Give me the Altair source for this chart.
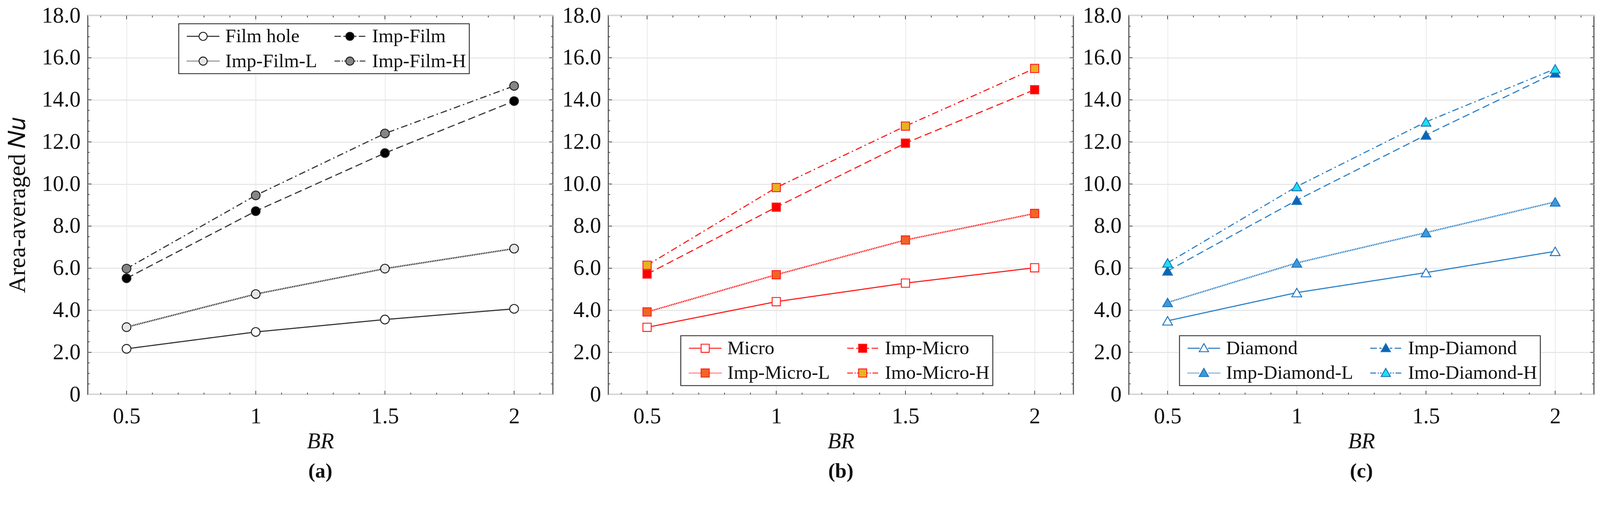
import altair as alt
import pandas as pd

BR = [0.5, 1.0, 1.5, 2.0]

# (a) film-hole family
FILM_SERIES = ["Film hole", "Imp-Film", "Imp-Film-L", "Imp-Film-H"]
FILM_HOLE = [2.17, 2.97, 3.56, 4.07]
IMP_FILM = [5.52, 8.71, 11.47, 13.94]
IMP_FILM_L = [3.20, 4.77, 5.98, 6.93]
IMP_FILM_H = [5.98, 9.46, 12.40, 14.66]

# (b) micro family
MICRO_SERIES = ["Micro", "Imp-Micro", "Imp-Micro-L", "Imo-Micro-H"]
MICRO = [3.19, 4.41, 5.29, 6.02]
IMP_MICRO = [5.72, 8.90, 11.94, 14.48]
IMP_MICRO_L = [3.92, 5.69, 7.34, 8.60]
IMO_MICRO_H = [6.14, 9.83, 12.75, 15.49]

# (c) diamond family
DIAMOND_SERIES = ["Diamond", "Imp-Diamond", "Imp-Diamond-L", "Imo-Diamond-H"]
DIAMOND = [3.50, 4.84, 5.79, 6.80]
IMP_DIAMOND = [5.87, 9.23, 12.33, 15.28]
IMP_DIAMOND_L = [4.37, 6.25, 7.69, 9.15]
IMO_DIAMOND_H = [6.25, 9.88, 12.95, 15.47]

X_MAJOR = [0.5, 1.0, 1.5, 2.0]
X_MINOR = [0.4, 0.6, 0.7, 0.8, 0.9, 1.1, 1.2, 1.3, 1.4, 1.6, 1.7, 1.8, 1.9, 2.1]
Y_MAJOR = [0, 2, 4, 6, 8, 10, 12, 14, 16, 18]
Y_MINOR = [0.5, 1, 1.5, 2.5, 3, 3.5, 4.5, 5, 5.5, 6.5, 7, 7.5, 8.5, 9, 9.5,
           10.5, 11, 11.5, 12.5, 13, 13.5, 14.5, 15, 15.5, 16.5, 17, 17.5]

FONT = "Liberation Serif"
W, H = 1258, 1025
XS = alt.Scale(domain=[0.35, 2.15], nice=False, zero=False)
YS = alt.Scale(domain=[0, 18], nice=False, zero=False)

# base / Imp / Imp-L / Imp-H
LINE_DASHES = [[1, 0], [20, 10], [3, 1.8], [18, 8, 4, 8]]
LINE_WIDTHS = [3, 3, 4, 3]

MARKER_PATHS = {
    "circle": "M-1,0A1,1 0 1,0 1,0A1,1 0 1,0 -1,0Z",
    "square": "M-1,-1H1V1H-1Z",
    "triangle-up": "M0,-1.15L1.15,0.85H-1.15Z",
}


def legend_paths(marker):
    """Legend symbols: short line pieces with the marker in the middle."""
    m = MARKER_PATHS[marker]
    dots = "".join(f"M{-4 + 0.3 * i:.2f},0h0.17" for i in range(10))
    dots += "".join(f"M{1.13 + 0.3 * i:.2f},0h0.17" for i in range(10))
    return [
        "M-4,0H-1M1,0H4" + m,
        "M-3.8,0H-2.2M-1.6,0H-1M1,0H1.6M2.2,0H3.8" + m,
        dots + m,
        "M-3.8,0H-2.4M-2,0H-1.7M-1.4,0H-1M1,0H1.4M1.7,0H2M2.4,0H3.8" + m,
    ]


def long_df(names, series):
    rows = []
    for name, vals in zip(names, series):
        for br, nu in zip(BR, vals):
            rows.append({"br": br, "nu": nu, "series": name})
    return pd.DataFrame(rows)


def tick_layers():
    """Inward ticks on all four edges of the frame, placed by the x / y scales."""
    out = []
    for values, size in [(X_MAJOR, 10), (X_MINOR, 5)]:
        tdf = pd.DataFrame({"v": values})
        for y0, y1 in [(H - size, H), (0, size)]:
            out.append(
                alt.Chart(tdf)
                .mark_rule(color="#444", strokeWidth=2)
                .encode(x=alt.X("v:Q", scale=XS),
                        y=alt.value(y0), y2=alt.value(y1))
            )
    for values, size in [(Y_MAJOR[1:-1], 10), (Y_MINOR, 5)]:
        tdf = pd.DataFrame({"v": values})
        for x0, x1 in [(0, size), (W - size, W)]:
            out.append(
                alt.Chart(tdf)
                .mark_rule(color="#444", strokeWidth=2)
                .encode(y=alt.Y("v:Q", scale=YS),
                        x=alt.value(x0), x2=alt.value(x1))
            )
    return out


def panel(names, series, fills, line_color, point_stroke, marker, msize,
          legend_xy, y_title, label):
    df = long_df(names, series)

    x_main = alt.Axis(orient="bottom", values=X_MAJOR,
                      labelExpr="format(datum.value, '~g')",
                      ticks=False, tickSize=0, domain=False, grid=True,
                      gridColor="#e2e2e2", gridWidth=1.5,
                      labelPadding=31, labelFont=FONT, labelFontSize=60,
                      labelColor="#111",
                      title="BR", titleFont=FONT, titleFontStyle="italic",
                      titleFontSize=60, titleFontWeight="normal",
                      titleColor="#111", titlePadding=8)
    y_main = alt.Axis(orient="left", values=Y_MAJOR,
                      labelExpr="datum.value == 0 ? '0' : format(datum.value, '.1f')",
                      ticks=False, tickSize=0, domain=False, grid=True,
                      gridColor="#e6e6e6", gridWidth=3,
                      labelPadding=20, labelFont=FONT, labelFontSize=60,
                      labelColor="#111",
                      title=y_title, titleFont=FONT, titleFontSize=64,
                      titleFontWeight="normal", titleColor="#111",
                      titlePadding=32)

    layers = []
    for i, (name, dash, sw) in enumerate(zip(names, LINE_DASHES, LINE_WIDTHS)):
        x_enc = alt.X("br:Q", scale=XS, axis=x_main) if i == 0 else alt.X("br:Q", scale=XS)
        y_enc = alt.Y("nu:Q", scale=YS, axis=y_main) if i == 0 else alt.Y("nu:Q", scale=YS)
        layers.append(
            alt.Chart(df)
            .transform_filter(alt.datum.series == name)
            .mark_line(color=line_color, strokeWidth=sw, strokeDash=dash)
            .encode(x=x_enc, y=y_enc)
        )

    leg = alt.Legend(orient="none", legendX=legend_xy[0], legendY=legend_xy[1],
                     columns=2, direction="horizontal", title=None,
                     labelFont=FONT, labelFontSize=52,
                     labelColor="#111", labelLimit=450, symbolSize=484,
                     symbolStrokeWidth=2.5, symbolOffset=32, labelOffset=34,
                     columnPadding=30, rowPadding=15, padding=8,
                     strokeColor="#333", fillColor="white")
    fill_scale = alt.Scale(domain=names, range=fills)

    # legend-only layer (draws no rows)
    layers.append(
        alt.Chart(df)
        .transform_filter("datum.br < 0")
        .mark_point(filled=True, stroke=point_stroke, strokeWidth=2.5, opacity=1)
        .encode(
            fill=alt.Fill("series:N", scale=fill_scale, legend=leg),
            shape=alt.Shape("series:N",
                            scale=alt.Scale(domain=names, range=legend_paths(marker)),
                            legend=leg),
        )
    )

    layers += tick_layers()

    layers.append(
        alt.Chart(df)
        .mark_point(shape=marker, filled=True, size=msize, stroke=point_stroke,
                    strokeWidth=2.5, opacity=1)
        .encode(
            x=alt.X("br:Q", scale=XS),
            y=alt.Y("nu:Q", scale=YS),
            fill=alt.Fill("series:N", scale=fill_scale),
        )
    )

    return (
        alt.layer(*layers)
        .properties(
            width=W, height=H,
            title=alt.TitleParams(label, orient="bottom", font=FONT, fontSize=56,
                                  fontWeight="bold", color="#111", offset=24),
        )
    )


chart_a = panel(FILM_SERIES, [FILM_HOLE, IMP_FILM, IMP_FILM_L, IMP_FILM_H],
                ["white", "black", "#e6e6e6", "#858585"],
                "#333333", "#222222", "circle", 560, (246, 22),
                "Area-averaged \U0001D441\U0001D462", "(a)")
chart_b = panel(MICRO_SERIES, [MICRO, IMP_MICRO, IMP_MICRO_L, IMO_MICRO_H],
                ["white", "#ff0000", "#f26522", "#e9b222"],
                "#ff1a1a", "#ff2020", "square", 500, (196, 866), None, "(b)")
chart_c = panel(DIAMOND_SERIES, [DIAMOND, IMP_DIAMOND, IMP_DIAMOND_L, IMO_DIAMOND_H],
                ["white", "#0a66b5", "#3b9ad9", "#17e4ef"],
                "#2a80c8", "#1f72bd", "triangle-up", 700, (137, 866), None, "(c)")

chart = (
    alt.hconcat(chart_a, chart_b, chart_c, spacing=20)
    .resolve_scale(fill="independent", shape="independent")
    .configure_view(stroke="#555555", strokeWidth=3)
    .configure_axis(labelFont=FONT, titleFont=FONT)
    .configure_legend(strokeWidth=2.5)
    .properties(padding={"left": 6, "top": -34, "right": 5, "bottom": 5})
)

chart.save("out.html", embed_options={"renderer": "svg", "actions": False})
